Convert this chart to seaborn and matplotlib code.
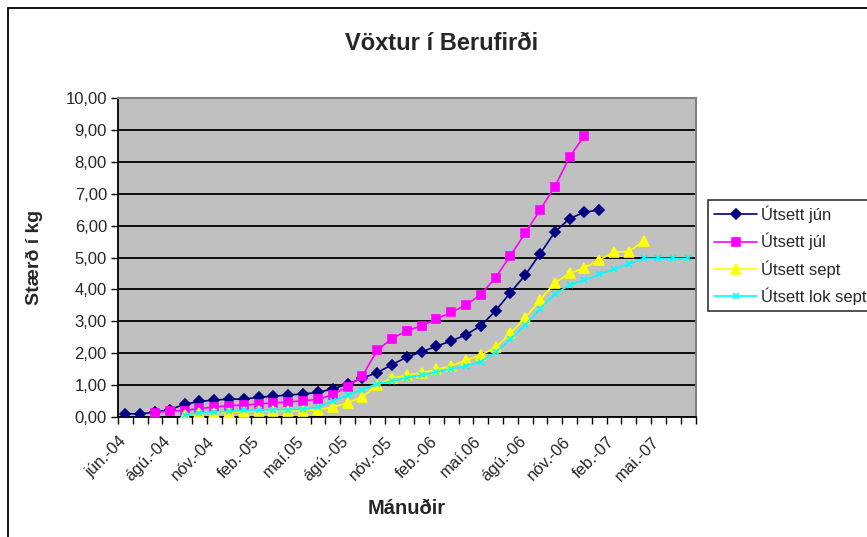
import numpy as np
import pandas as pd
import seaborn as sns
import matplotlib.pyplot as plt
from matplotlib.patches import Rectangle
from matplotlib.ticker import FixedLocator, MultipleLocator
from matplotlib.transforms import ScaledTranslation

n_cats = 39
tick_labels = ["jún.-04", "ágú.-04", "nóv.-04", "feb.-05", "maí.05", "ágú.-05",
               "nóv.-05", "feb.-06", "maí.06", "ágú.-06", "nóv.-06", "feb.-07", "mai.-07"]

utsett_jun = [0.10, 0.10, 0.15, 0.23, 0.40, 0.49, 0.53, 0.56, 0.56, 0.62, 0.65, 0.69, 0.72,
              0.77, 0.88, 1.03, 1.22, 1.39, 1.64, 1.88, 2.04, 2.22, 2.38, 2.58, 2.86, 3.33,
              3.90, 4.45, 5.11, 5.80, 6.22, 6.42, 6.49]
utsett_jul = [None, None, 0.14, 0.19, 0.20, 0.27, 0.31, 0.36, 0.37, 0.41, 0.44, 0.47, 0.51,
              0.55, 0.70, 0.95, 1.28, 2.09, 2.46, 2.70, 2.86, 3.07, 3.28, 3.51, 3.84, 4.37,
              5.06, 5.76, 6.49, 7.22, 8.15, 8.82]
utsett_sept = [None, None, None, None, 0.07, 0.11, 0.14, 0.14, 0.16, 0.18, 0.19, 0.19, 0.19,
               0.23, 0.31, 0.44, 0.63, 1.00, 1.22, 1.31, 1.39, 1.49, 1.60, 1.78, 1.94, 2.18,
               2.62, 3.11, 3.66, 4.21, 4.50, 4.68, 4.92, 5.18, 5.18, 5.52]
utsett_lok_sept = [None, None, None, None, 0.07, 0.13, 0.16, 0.18, 0.21, 0.21, 0.23, 0.23,
                   0.25, 0.31, 0.50, 0.68, 0.86, 1.04, 1.12, 1.23, 1.31, 1.41, 1.51, 1.61,
                   1.73, 2.03, 2.43, 2.88, 3.40, 3.85, 4.14, 4.29, 4.47, 4.63, 4.80, 4.97,
                   4.97, 4.97, 4.97]

series = {
    "Útsett jún": utsett_jun,
    "Útsett júl": utsett_jul,
    "Útsett sept": utsett_sept,
    "Útsett lok sept": utsett_lok_sept,
}
colors = {"Útsett jún": "#000080", "Útsett júl": "#FF00FF",
          "Útsett sept": "#FFFF00", "Útsett lok sept": "#00FFFF"}
markers = {"Útsett jún": "D", "Útsett júl": "s",
           "Útsett sept": "^", "Útsett lok sept": "x"}
msizes = {"Útsett jún": 5.2, "Útsett júl": 5.6, "Útsett sept": 7, "Útsett lok sept": 5}

# long format table for seaborn
rows = []
for name, vals in series.items():
    for i, v in enumerate(vals):
        if v is not None:
            rows.append({"cat": i, "kg": v, "serie": name})
df = pd.DataFrame(rows)

sns.set_style("white")
plt.rcParams['font.family'] = ['Liberation Sans', 'DejaVu Sans']

fig = plt.figure(figsize=(8.67, 5.37), dpi=100)
ax = fig.add_axes([118 / 867, 1 - 417 / 537, (695.5 - 118) / 867, (417 - 98) / 537])
ax.set_facecolor("#C0C0C0")

for name in series:
    sub = df[df["serie"] == name]
    sns.lineplot(data=sub, x="cat", y="kg", ax=ax, color=colors[name], marker=markers[name],
                 markersize=msizes[name], markeredgecolor=colors[name], markeredgewidth=1.2,
                 linewidth=1.2, label=name, zorder=3)

# axes setup, Excel style
ax.set_xlim(-0.5, n_cats - 0.5)
ax.set_ylim(0, 10)
ax.yaxis.set_major_locator(MultipleLocator(1))
ax.yaxis.set_major_formatter(plt.FuncFormatter(lambda v, p: f"{v:.2f}".replace(".", ",")))
ax.grid(axis="y", color="black", linewidth=1.3, zorder=1)
ax.set_axisbelow(True)

ax.xaxis.set_major_locator(FixedLocator(np.arange(0, n_cats, 3)))
ax.set_xticklabels(tick_labels, rotation=45, ha="right", rotation_mode="anchor", fontsize=12)
ax.xaxis.set_minor_locator(FixedLocator(np.arange(-0.5, n_cats, 1)))
ax.tick_params(axis="x", which="major", length=0, pad=10)
ax.tick_params(axis="x", which="minor", length=5, width=1, color="black", direction="out", bottom=True)
ax.tick_params(axis="y", length=5, width=1, color="black", direction="out", left=True, labelsize=12, pad=3)
# nudge rotated labels a little left/down like the original
shift = ScaledTranslation(-7 / 100, -3 / 100, fig.dpi_scale_trans)
for lbl in ax.get_xticklabels():
    lbl.set_transform(lbl.get_transform() + shift)

for side in ["top", "right"]:
    ax.spines[side].set_color("#808080")
    ax.spines[side].set_linewidth(1.5)
for side in ["left", "bottom"]:
    ax.spines[side].set_color("black")
    ax.spines[side].set_linewidth(1.3)

ax.set_xlabel("Mánuðir", fontsize=14.5, fontweight="bold")
ax.xaxis.set_label_coords(0.5, -(508 - 417) / (417 - 98))
ax.xaxis.label.set_va("center")
ax.set_ylabel("Stærð í kg", fontsize=14, fontweight="bold", labelpad=16)
fig.text(442 / 867, 1 - 43 / 537, "Vöxtur í Berufirði", ha="center", va="center",
         fontsize=17, fontweight="bold")

leg = ax.legend(loc="upper left", bbox_to_anchor=(708 / 867, 1 - 200 / 537),
                bbox_transform=fig.transFigure, frameon=True, fancybox=False,
                fontsize=12, handlelength=2.6, borderpad=0.35, labelspacing=0.58,
                handletextpad=0.25, borderaxespad=0)
leg.get_frame().set_edgecolor("black")
leg.get_frame().set_linewidth(1.2)

# outer chart frame
fig.patches.append(Rectangle((8 / 867, -0.05), 1.0, 1 - 8 / 537 + 0.05, transform=fig.transFigure,
                             fill=False, edgecolor="black", linewidth=1.3))

fig.savefig("out.png", dpi=100)
